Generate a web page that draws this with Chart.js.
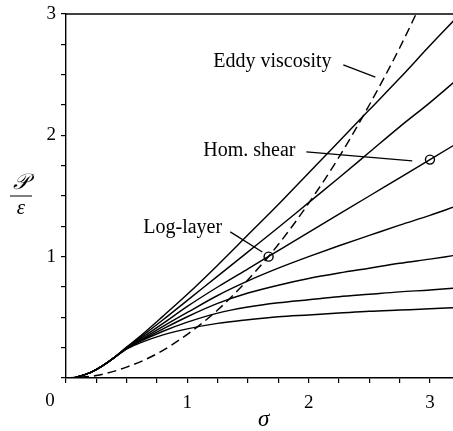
<!DOCTYPE html>
<html>
<head>
<meta charset="utf-8">
<script src="https://cdn.jsdelivr.net/npm/chart.js@4.4.1/dist/chart.umd.min.js"></script>
<style>
  html, body { margin: 0; padding: 0; background: #fff; }
</style>
</head>
<body>
<canvas id="chart" width="453" height="431"></canvas>
<script>
const sigma = [0.06, 0.2, 0.3, 0.4, 0.5, 0.6, 0.8, 1.0, 1.25, 1.5, 1.75, 2.0, 2.25, 2.5, 2.75, 3.0, 3.2];

// P/eps for the family of solid curves, top to bottom
const curveA = [0, 0.045, 0.10, 0.17, 0.255, 0.335, 0.51, 0.69, 0.93, 1.18, 1.43, 1.69, 1.95, 2.21, 2.47, 2.74, 2.95];
const curveB = [0, 0.045, 0.10, 0.17, 0.25, 0.325, 0.48, 0.64, 0.84, 1.04, 1.24, 1.445, 1.65, 1.86, 2.07, 2.27, 2.44];
const curveC = [0, 0.045, 0.10, 0.17, 0.25, 0.315, 0.45, 0.59, 0.75, 0.90, 1.05, 1.20, 1.35, 1.50, 1.65, 1.80, 1.92];
const curveD = [0, 0.045, 0.10, 0.17, 0.245, 0.305, 0.425, 0.54, 0.68, 0.80, 0.905, 1.0, 1.09, 1.175, 1.26, 1.34, 1.41];
const curveE = [0, 0.045, 0.10, 0.17, 0.245, 0.30, 0.405, 0.505, 0.615, 0.70, 0.765, 0.82, 0.865, 0.905, 0.945, 0.98, 1.01];
const curveF = [0, 0.045, 0.10, 0.17, 0.24, 0.295, 0.385, 0.46, 0.535, 0.585, 0.62, 0.645, 0.67, 0.69, 0.71, 0.725, 0.74];
const curveG = [0, 0.045, 0.10, 0.17, 0.24, 0.285, 0.355, 0.405, 0.45, 0.48, 0.505, 0.52, 0.535, 0.55, 0.56, 0.57, 0.58];
const solidCurves = [curveA, curveB, curveC, curveD, curveE, curveF, curveG];

// dashed eddy viscosity curve
const sigmaEddy = [0, 0.25, 0.5, 0.75, 1.0, 1.25, 1.5, 1.75, 2.0, 2.25, 2.5, 2.75, 2.9];
const eddy = [0, 0.02, 0.09, 0.2, 0.36, 0.56, 0.81, 1.1, 1.44, 1.82, 2.25, 2.72, 3.03];

// open circles: log-layer and homogeneous shear
const markSigma = [1.67, 3.0];
const markP = [1.0, 1.8];

// labels with leader lines (data units)
const labels = [
  { text: 'Eddy viscosity', x: 1.214, y: 2.605, from: [2.286, 2.58], to: [2.55, 2.48] },
  { text: 'Hom. shear', x: 1.132, y: 1.871, from: [1.981, 1.863], to: [2.854, 1.789] },
  { text: 'Log-layer', x: 0.637, y: 1.237, from: [1.354, 1.204], to: [1.618, 1.039] }
];

const xTicks = [1, 2, 3];
const yTicks = [1, 2, 3];

const serif = '"Liberation Serif", "DejaVu Serif", serif';

const datasets = solidCurves.map(c => ({
  data: sigma.map((s, i) => ({ x: s, y: c[i] })),
  showLine: true,
  borderColor: '#000',
  borderWidth: 1.45,
  pointRadius: 0,
  cubicInterpolationMode: 'monotone'
}));

datasets.push({
  data: sigmaEddy.map((s, i) => ({ x: s, y: eddy[i] })),
  showLine: true,
  borderColor: '#000',
  borderWidth: 1.45,
  borderDash: [9, 5],
  pointRadius: 0,
  cubicInterpolationMode: 'monotone'
});

datasets.push({
  data: markSigma.map((s, i) => ({ x: s, y: markP[i] })),
  showLine: false,
  pointRadius: 4.5,
  pointBorderWidth: 1.4,
  pointBorderColor: '#000',
  pointBackgroundColor: 'rgba(0,0,0,0)'
});

const decor = {
  id: 'decor',
  afterDatasetsDraw(chart) {
    const ctx = chart.ctx;
    const xs = chart.scales.x, ys = chart.scales.y;
    const area = chart.chartArea;
    ctx.save();
    ctx.strokeStyle = '#000';
    ctx.fillStyle = '#000';

    // top frame line
    ctx.lineWidth = 1.4;
    ctx.beginPath();
    ctx.moveTo(area.left, area.top);
    ctx.lineTo(area.right, area.top);
    ctx.stroke();

    // shared origin label, sits left of the corner
    ctx.font = '19px ' + serif;
    ctx.textAlign = 'center';
    ctx.textBaseline = 'middle';
    ctx.fillText('0', xs.getPixelForValue(0) - 16, area.bottom + 23);

    // annotations
    ctx.font = '20px ' + serif;
    ctx.textAlign = 'left';
    ctx.lineWidth = 1.3;
    labels.forEach(l => {
      ctx.fillText(l.text, xs.getPixelForValue(l.x), ys.getPixelForValue(l.y));
      ctx.beginPath();
      ctx.moveTo(xs.getPixelForValue(l.from[0]), ys.getPixelForValue(l.from[1]));
      ctx.lineTo(xs.getPixelForValue(l.to[0]), ys.getPixelForValue(l.to[1]));
      ctx.stroke();
    });

    // y title as a fraction P / eps
    const cx = area.left - 45;
    const cy = ys.getPixelForValue(1.5);
    ctx.textAlign = 'center';
    ctx.font = 'italic 22px ' + serif;
    ctx.fillText('\u{1D4AB}', cx, cy - 13);
    ctx.font = 'italic 21px ' + serif;
    ctx.fillText('\u03B5', cx, cy + 12);
    ctx.lineWidth = 1;
    ctx.beginPath();
    ctx.moveTo(cx - 11, cy);
    ctx.lineTo(cx + 11, cy);
    ctx.stroke();

    // x title
    ctx.font = 'italic 23px ' + serif;
    ctx.fillText('\u03C3', xs.getPixelForValue(1.63), area.bottom + 42);
    ctx.restore();
  }
};

const onQuarters = scale => {
  scale.ticks = scale.ticks.filter(t => Math.abs(t.value * 4 - Math.round(t.value * 4)) < 1e-6);
};
const labelFor = list => v => {
  const r = Math.round(v);
  return Math.abs(v - r) < 1e-6 && list.includes(r) ? String(r) : '';
};

new Chart(document.getElementById('chart').getContext('2d'), {
  type: 'scatter',
  data: { datasets: datasets },
  plugins: [decor],
  options: {
    responsive: false,
    animation: false,
    layout: { autoPadding: false, padding: { top: 14, right: 0, left: 0, bottom: 0 } },
    plugins: { legend: { display: false }, tooltip: { enabled: false } },
    scales: {
      x: {
        type: 'linear',
        min: 0,
        max: 3.19,
        afterBuildTicks: onQuarters,
        afterFit: s => {
          s.height = 53;
          s.paddingLeft = 0;
          s.paddingRight = 0;
        },
        ticks: {
          stepSize: 0.25,
          includeBounds: false,
          autoSkip: false,
          maxRotation: 0,
          color: '#000',
          padding: 9,
          font: { family: serif, size: 19 },
          callback: labelFor(xTicks)
        },
        grid: { drawOnChartArea: false, drawTicks: true, tickLength: 5, color: '#000', lineWidth: 1.2 },
        border: { color: '#000', width: 1.4 }
      },
      y: {
        type: 'linear',
        min: 0,
        max: 3,
        afterBuildTicks: onQuarters,
        afterFit: s => {
          s.width = 66;
          s.paddingTop = 0;
          s.paddingBottom = 0;
        },
        ticks: {
          stepSize: 0.25,
          autoSkip: false,
          color: '#000',
          padding: 5,
          font: { family: serif, size: 19 },
          callback: labelFor(yTicks)
        },
        grid: { drawOnChartArea: false, drawTicks: true, tickLength: 5, color: '#000', lineWidth: 1.2 },
        border: { color: '#000', width: 1.4 }
      }
    }
  }
});
</script>
</body>
</html>
